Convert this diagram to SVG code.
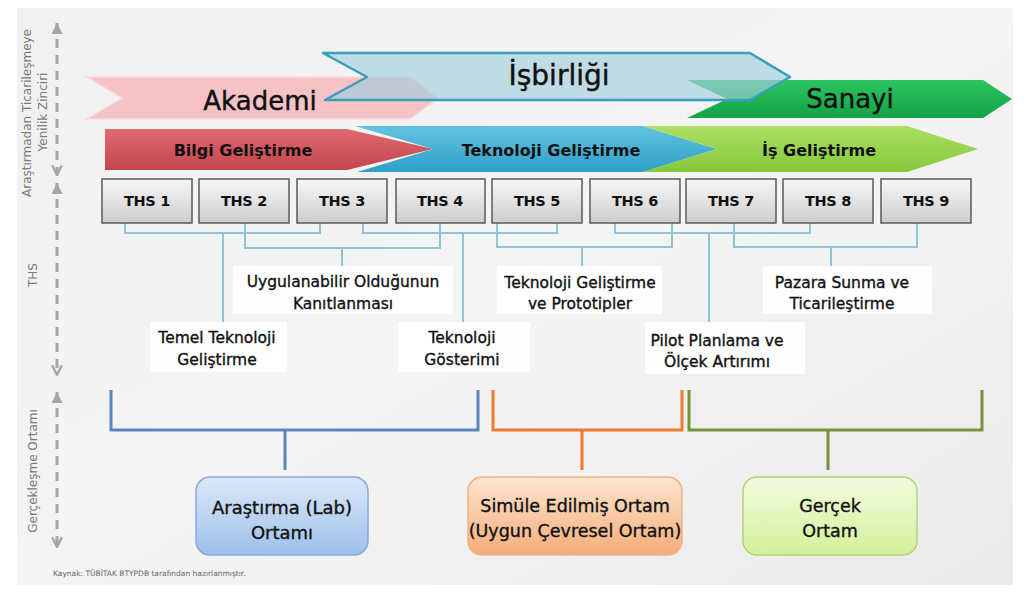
<svg xmlns="http://www.w3.org/2000/svg" width="1024" height="604" viewBox="0 0 1024 604">
  <defs>
    <linearGradient id="gBg" x1="0" y1="0" x2="1" y2="1">
      <stop offset="0" stop-color="#f1f1f1"/>
      <stop offset="0.5" stop-color="#f4f4f4"/>
      <stop offset="1" stop-color="#ebebeb"/>
    </linearGradient>
    <linearGradient id="gThs" x1="0" y1="0" x2="0" y2="1">
      <stop offset="0" stop-color="#f7f7f7"/>
      <stop offset="1" stop-color="#cdcdcd"/>
    </linearGradient>
    <linearGradient id="gRed" x1="0" y1="0" x2="0" y2="1">
      <stop offset="0" stop-color="#de6a70"/>
      <stop offset="1" stop-color="#c4454d"/>
    </linearGradient>
    <linearGradient id="gBlue" x1="0" y1="0" x2="0" y2="1">
      <stop offset="0" stop-color="#62c4e2"/>
      <stop offset="1" stop-color="#2f9fc6"/>
    </linearGradient>
    <linearGradient id="gLime" x1="0" y1="0" x2="0" y2="1">
      <stop offset="0" stop-color="#abdf62"/>
      <stop offset="1" stop-color="#86c83c"/>
    </linearGradient>
    <linearGradient id="gGreen" x1="0" y1="0" x2="0" y2="1">
      <stop offset="0" stop-color="#2cc460"/>
      <stop offset="1" stop-color="#12a347"/>
    </linearGradient>
    <linearGradient id="gBoxBlue" x1="0" y1="0" x2="0" y2="1">
      <stop offset="0" stop-color="#dde8f8"/>
      <stop offset="1" stop-color="#9dbfeb"/>
    </linearGradient>
    <linearGradient id="gBoxOrange" x1="0" y1="0" x2="0" y2="1">
      <stop offset="0" stop-color="#fde4d0"/>
      <stop offset="1" stop-color="#f5ad78"/>
    </linearGradient>
    <linearGradient id="gBoxGreen" x1="0" y1="0" x2="0" y2="1">
      <stop offset="0" stop-color="#f3fbdf"/>
      <stop offset="1" stop-color="#d3f09a"/>
    </linearGradient>
    <marker id="headUp" viewBox="0 0 10 10" refX="10" refY="5" markerWidth="11" markerHeight="11" markerUnits="userSpaceOnUse" orient="auto-start-reverse">
      <path d="M0,0 L10,5 L0,10 Z" fill="#a6a6a6"/>
    </marker>
    <marker id="headDown" viewBox="0 0 10 10" refX="9" refY="5" markerWidth="12" markerHeight="12" markerUnits="userSpaceOnUse" orient="auto">
      <path d="M1,1 L9,5 L1,9" fill="none" stroke="#a6a6a6" stroke-width="2"/>
    </marker>
  </defs>
  <style>
    text { font-family: "DejaVu Sans", "Liberation Sans", sans-serif; fill: #111; }
    .big { font-size: 26px; text-anchor: middle; stroke: #111; stroke-width: 0.4px; }
    .phase { font-size: 16px; font-weight: bold; text-anchor: middle; }
    .ths rect { fill: url(#gThs); stroke: #5a5a5a; stroke-width: 1.5; }
    .ths text { font-size: 14.5px; font-weight: bold; text-anchor: middle; letter-spacing: -0.3px; }
    .lbl rect { fill: #ffffff; opacity: 0.92; }
    .lbl text { font-size: 15.5px; text-anchor: middle; stroke: #111; stroke-width: 0.35px; }
    .env text { font-size: 18px; text-anchor: middle; stroke: #111; stroke-width: 0.35px; }
    .axis { fill: none; stroke: #a6a6a6; stroke-width: 3; stroke-dasharray: 9 7; marker-start: url(#headUp); marker-end: url(#headDown); }
    .axlbl { font-size: 12px; fill: #7a7a7a; text-anchor: middle; }
    .thsline { fill: none; stroke: #8fc5d4; stroke-width: 2; }
    .bb { fill: none; stroke: #5b87bf; stroke-width: 3; }
    .bo { fill: none; stroke: #ec7c30; stroke-width: 3; }
    .bg { fill: none; stroke: #77933c; stroke-width: 3; }
  </style>

  <rect x="0" y="0" width="1024" height="604" fill="#ffffff"/>
  <rect x="17" y="8" width="996" height="577" fill="url(#gBg)"/>

  <!-- left axis -->
  <g id="axis">
    <line class="axis" x1="57" y1="23" x2="57" y2="175"/>
    <line class="axis" x1="57" y1="183" x2="57" y2="375"/>
    <line class="axis" x1="57" y1="392" x2="57" y2="547"/>
    <text class="axlbl" transform="translate(31,113) rotate(-90)">Araştırmadan Ticarileşmeye</text>
    <text class="axlbl" transform="translate(47,112) rotate(-90)">Yenilik Zinciri</text>
    <text class="axlbl" transform="translate(37,275) rotate(-90)">THS</text>
    <text class="axlbl" transform="translate(37,471) rotate(-90)">Gerçekleşme Ortamı</text>
  </g>

  <!-- top row chevrons -->
  <g id="akademi">
    <polygon points="87,77 410,77 438,98 410,119 87,119 122,98" fill="#f5c2c6" stroke="#fad9db" stroke-width="1.5"/>
    <text class="big" x="260" y="110">Akademi</text>
  </g>
  <g id="sanayi">
    <polygon points="687,80 983,80 1012,99 983,118 687,118 727,99" fill="url(#gGreen)"/>
    <text class="big" x="850" y="108">Sanayi</text>
  </g>
  <g id="isbirligi">
    <polygon points="323,53 750,53 790,77 750,100 325,100 367,77" fill="#a3cedc" fill-opacity="0.65" stroke="#3a9dbd" stroke-width="2.5" stroke-linejoin="round"/>
    <text class="big" x="559" y="85" style="font-size:28px">İşbirliği</text>
  </g>

  <!-- second row chevrons -->
  <g id="bilgi">
    <polygon points="105,129 347,129 433,149 347,170 105,170" fill="url(#gRed)"/>
    <text class="phase" x="243" y="156">Bilgi Geliştirme</text>
  </g>
  <g id="teknoloji">
    <polygon points="355,126 643,126 717,149 643,172 357,172 433,149" fill="url(#gBlue)"/>
    <text class="phase" x="551" y="156">Teknoloji Geliştirme</text>
  </g>
  <g id="is">
    <polygon points="643,126 907,126 978,149 907,172 643,172 717,149" fill="url(#gLime)"/>
    <text class="phase" x="819" y="156">İş Geliştirme</text>
  </g>

  <!-- connectors -->
  <g id="connectors">
    <path class="thsline" d="M125,223 V233 H320 V223 M223,233 V322"/>
    <path class="thsline" d="M245,223 V248 H440 V223 M342,248 V266"/>
    <path class="thsline" d="M363,223 V233 H557 V223 M463,233 V322"/>
    <path class="thsline" d="M497,223 V247 H672 V223 M582,247 V266"/>
    <path class="thsline" d="M615,223 V233 H810 V223 M709,233 V322"/>
    <path class="thsline" d="M734,223 V247 H917 V223 M831,247 V266"/>
    <path class="bb" d="M111,390 V430 H478 V390 M285,430 V470"/>
    <path class="bo" d="M493,390 V430 H682 V390 M582,430 V470"/>
    <path class="bg" d="M689,390 V430 H982 V390 M828,430 V470"/>
  </g>

  <!-- THS boxes -->
  <g id="ths1" class="ths"><rect x="102" y="179" width="90" height="44"/><text x="147" y="206">THS 1</text></g>
  <g id="ths2" class="ths"><rect x="199" y="179" width="90" height="44"/><text x="244" y="206">THS 2</text></g>
  <g id="ths3" class="ths"><rect x="297" y="179" width="90" height="44"/><text x="342" y="206">THS 3</text></g>
  <g id="ths4" class="ths"><rect x="396" y="179" width="89" height="44"/><text x="440" y="206">THS 4</text></g>
  <g id="ths5" class="ths"><rect x="492" y="179" width="90" height="44"/><text x="537" y="206">THS 5</text></g>
  <g id="ths6" class="ths"><rect x="590" y="179" width="90" height="44"/><text x="635" y="206">THS 6</text></g>
  <g id="ths7" class="ths"><rect x="686" y="179" width="90" height="44"/><text x="731" y="206">THS 7</text></g>
  <g id="ths8" class="ths"><rect x="783" y="179" width="90" height="44"/><text x="828" y="206">THS 8</text></g>
  <g id="ths9" class="ths"><rect x="881" y="179" width="90" height="44"/><text x="926" y="206">THS 9</text></g>

  <!-- stage labels -->
  <g id="lbl-uygulanabilir" class="lbl">
    <rect x="233" y="266" width="220" height="48"/>
    <text x="343" y="287">Uygulanabilir Olduğunun</text>
    <text x="343" y="309">Kanıtlanması</text>
  </g>
  <g id="lbl-temel" class="lbl">
    <rect x="150" y="322" width="137" height="50"/>
    <text x="217" y="343">Temel Teknoloji</text>
    <text x="217" y="365">Geliştirme</text>
  </g>
  <g id="lbl-gosterim" class="lbl">
    <rect x="398" y="322" width="132" height="50"/>
    <text x="462" y="343">Teknoloji</text>
    <text x="462" y="365">Gösterimi</text>
  </g>
  <g id="lbl-prototip" class="lbl">
    <rect x="497" y="266" width="165" height="48"/>
    <text x="580" y="288">Teknoloji Geliştirme</text>
    <text x="580" y="309">ve Prototipler</text>
  </g>
  <g id="lbl-pilot" class="lbl">
    <rect x="645" y="322" width="160" height="52"/>
    <text x="717" y="346">Pilot Planlama ve</text>
    <text x="717" y="367">Ölçek Artırımı</text>
  </g>
  <g id="lbl-pazara" class="lbl">
    <rect x="763" y="266" width="169" height="48"/>
    <text x="842" y="288">Pazara Sunma ve</text>
    <text x="842" y="309">Ticarileştirme</text>
  </g>

  <!-- environments -->
  <g id="env-lab" class="env">
    <rect x="196" y="477" width="172" height="78" rx="14" fill="url(#gBoxBlue)" stroke="#86a9dc" stroke-width="1.5"/>
    <text x="282" y="514">Araştırma (Lab)</text>
    <text x="282" y="539">Ortamı</text>
  </g>
  <g id="env-sim" class="env">
    <rect x="468" y="477" width="214" height="78" rx="14" fill="url(#gBoxOrange)" stroke="#f0b287" stroke-width="1.5"/>
    <text x="575" y="512" style="font-size:17.5px">Simüle Edilmiş Ortam</text>
    <text x="575" y="537" style="font-size:17.5px">(Uygun Çevresel Ortam)</text>
  </g>
  <g id="env-real" class="env">
    <rect x="743" y="477" width="174" height="78" rx="14" fill="url(#gBoxGreen)" stroke="#b3d47a" stroke-width="1.5"/>
    <text x="830" y="512" style="font-size:17.5px">Gerçek</text>
    <text x="830" y="537" style="font-size:17.5px">Ortam</text>
  </g>

  <text x="53" y="576" style="font-size:7.5px; fill:#666">Kaynak: TÜBİTAK BTYPDB tarafından hazırlanmıştır.</text>
</svg>
